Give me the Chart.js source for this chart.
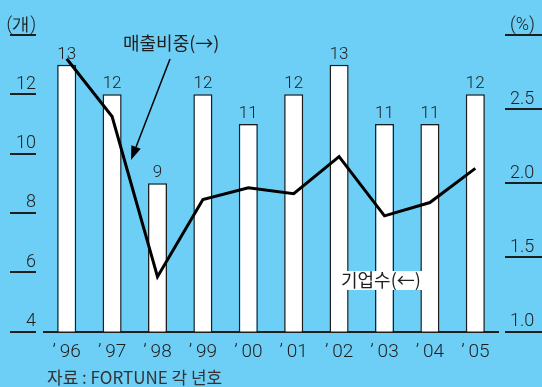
<!DOCTYPE html>
<html>
<head>
<meta charset="utf-8">
<script src="https://cdn.jsdelivr.net/npm/chart.js@4/dist/chart.umd.min.js"></script>
<style>
html,body{margin:0;padding:0;background:#6dcff6;}
#wrap{width:542px;height:387px;position:relative;}
</style>
</head>
<body>
<div id="wrap"><canvas id="c" width="542" height="387"></canvas></div>
<script>
// ---- data ----
const years = ["’\u200996","’\u200997","’\u200998","’\u200999","’\u200900","’\u200901","’\u200902","’\u200903","’\u200904","’\u200905"];
const companyCount = [13, 12, 9, 12, 11, 12, 13, 11, 11, 12];      // 기업수 (개), left axis
const salesShare = [2.84, 2.45, 1.37, 1.89, 1.97, 1.93, 2.18, 1.78, 1.87, 2.10]; // 매출비중 (%), right axis
const leftTicks = [4, 6, 8, 10, 12, 14];
const rightTicks = [1.0, 1.5, 2.0, 2.5, 3.0];
const leftUnit = "(개)";
const rightUnit = "(%)";
const lineLabel = "매출비중(→)";
const barLabel = "기업수(←)";
const sourceNote = "자료 : FORTUNE 각 년호";

const INK = "#1e1e1e";
const NUMFONT = "Roboto, 'Liberation Sans', sans-serif";
const KRFONT = "'Noto Sans CJK KR', sans-serif";

const deco = {
  id: "deco",
  afterDraw(chart) {
    const ctx = chart.ctx;
    ctx.save();
    // tick underlines
    const ys = chart.scales.y, yr = chart.scales.y1;
    ctx.fillStyle = INK;
    leftTicks.forEach(v => {
      const p = ys.getPixelForValue(v);
      ctx.fillRect(10, Math.round(p) - 1, 26, 2);
    });
    rightTicks.forEach(v => {
      const p = yr.getPixelForValue(v);
      ctx.fillRect(505, Math.round(p) - 1, 37, 2);
    });
    // bar value labels
    const meta = chart.getDatasetMeta(0);
    ctx.fillStyle = INK;
    ctx.font = "300 17px " + NUMFONT;
    ctx.textAlign = "center";
    ctx.textBaseline = "alphabetic";
    meta.data.forEach((bar, i) => {
      ctx.fillText(String(companyCount[i]), bar.x, bar.y - 6);
    });
    // line annotation + arrow
    ctx.font = "18px " + KRFONT;
    ctx.textAlign = "left";
    ctx.fillStyle = INK;
    ctx.fillText(lineLabel, 123, 50);
    const sx = 170, sy = 59, tx = 131, ty = 160;
    const dx = tx - sx, dy = ty - sy, len = Math.hypot(dx, dy);
    const ux = dx / len, uy = dy / len;
    const hl = 14, hw = 5;
    const bx = tx - ux * hl, by = ty - uy * hl;
    ctx.strokeStyle = "#000";
    ctx.lineWidth = 1.5;
    ctx.beginPath(); ctx.moveTo(sx, sy); ctx.lineTo(bx, by); ctx.stroke();
    ctx.fillStyle = "#000";
    ctx.beginPath();
    ctx.moveTo(tx, ty);
    ctx.lineTo(bx - uy * hw, by + ux * hw);
    ctx.lineTo(bx + uy * hw, by - ux * hw);
    ctx.closePath(); ctx.fill();
    // bar annotation with white box
    ctx.fillStyle = "#fff";
    ctx.fillRect(340, 271, 92, 19);
    ctx.fillStyle = INK;
    ctx.font = "18px " + KRFONT;
    ctx.fillText(barLabel, 341, 287);
    // source
    ctx.fillStyle = "#333";
    ctx.font = "17px " + KRFONT;
    ctx.fillText(sourceNote, 47, 384);
    ctx.restore();
  }
};

new Chart(document.getElementById("c"), {
  data: {
    labels: years,
    datasets: [
      {
        type: "bar",
        data: companyCount,
        yAxisID: "y",
        backgroundColor: "#fff",
        borderColor: INK,
        borderWidth: 1.5,
        barPercentage: 0.42,
        categoryPercentage: 1.0,
        order: 2
      },
      {
        type: "line",
        data: salesShare,
        yAxisID: "y1",
        borderColor: "#000",
        borderWidth: 3,
        pointRadius: 0,
        tension: 0,
        fill: false,
        order: 1
      }
    ]
  },
  options: {
    responsive: false,
    devicePixelRatio: 1,
    animation: false,
    layout: { padding: { top: 35, left: 0, right: 0, bottom: 0 } },
    plugins: { legend: { display: false }, tooltip: { enabled: false } },
    scales: {
      x: {
        grid: { display: false, drawTicks: false },
        border: { display: true, color: INK, width: 2 },
        ticks: { color: INK, font: { size: 19, family: NUMFONT, weight: 300 }, padding: 9, maxRotation: 0 },
        afterFit(s) { s.height = 55.5; }
      },
      y: {
        position: "left",
        min: 4, max: 14,
        afterBuildTicks(s) { s.ticks = leftTicks.map(v => ({ value: v })); },
        grid: { display: false, drawTicks: false },
        border: { display: false },
        ticks: {
          color: INK, font: { size: 18, family: NUMFONT, weight: 300 }, padding: 8, labelOffset: -10,
          callback: v => v === 14 ? leftUnit : String(v)
        },
        afterFit(s) { s.width = 44; }
      },
      y1: {
        position: "right",
        min: 1, max: 3,
        afterBuildTicks(s) { s.ticks = rightTicks.map(v => ({ value: v })); },
        grid: { display: false, drawTicks: false },
        border: { display: false },
        ticks: {
          color: INK, font: { size: 18, family: NUMFONT, weight: 300 }, padding: 12, labelOffset: -10,
          callback: v => v === 3 ? rightUnit : v.toFixed(1)
        },
        afterFit(s) { s.width = 44; }
      }
    }
  },
  plugins: [deco]
});
</script>
</body>
</html>
